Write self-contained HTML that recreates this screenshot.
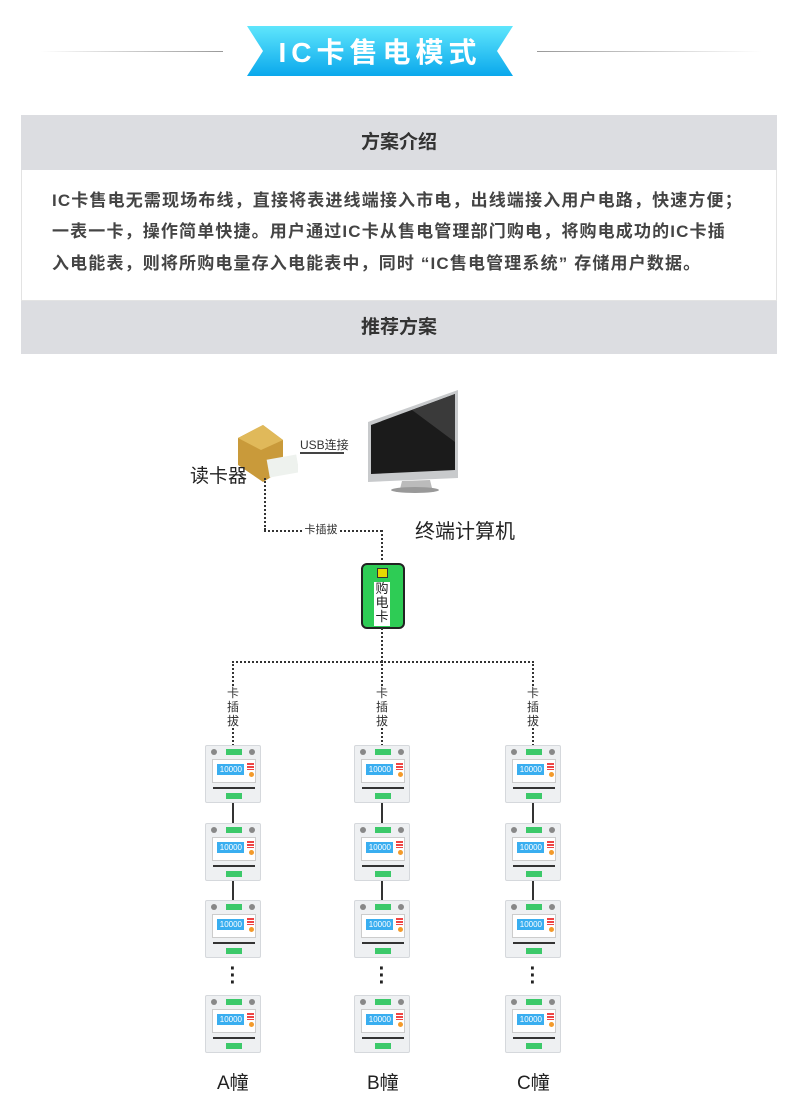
<!DOCTYPE html>
<html><head><meta charset="utf-8"><style>
*{margin:0;padding:0;box-sizing:border-box}
body{width:800px;height:1101px;background:#fff;position:relative;overflow:hidden;font-family:"Liberation Sans","Noto Sans CJK SC",sans-serif}
.a{position:absolute}
.hd{position:absolute;left:21px;width:756px;background:#dcdde1;text-align:center;font-weight:bold;font-size:19px;color:#333}
.p{position:absolute;left:52px;font-size:17px;font-weight:bold;color:#444;white-space:nowrap;letter-spacing:1.15px}
.m{position:absolute;width:56px;height:58px;background:#eef0f2;border:1px solid #d5d8dc;border-radius:2px}
.m .t{position:absolute;left:20px;width:16px;height:6px;background:#3cc96a;top:3px}
.m .b{top:47px}
.m .s{position:absolute;left:6px;top:13px;width:44px;height:24px;background:#fff;border:1px solid #ccc}
.m .l{position:absolute;left:4px;top:4px;width:27px;height:11px;background:#39aef0;color:#fff;font-size:8px;line-height:11px;text-align:right;padding-right:2px}
.m .o{position:absolute;left:36px;top:12px;width:5px;height:5px;border-radius:50%;background:#f39a2a}
.m .k{position:absolute;left:34px;top:3px;width:7px;height:7px;background:repeating-linear-gradient(#e44 0 2px,#fff 2px 3px)}
.m .bar{position:absolute;left:7px;top:41px;width:42px;height:2px;background:#333}
.m .c1,.m .c2{position:absolute;top:3px;width:6px;height:6px;border-radius:50%;background:#888}
.m .c1{left:5px}.m .c2{right:5px}
.v{position:absolute;width:0;border-left:2px solid #333}
.d{position:absolute;border-top:2px dotted #333}
.dv{position:absolute;border-left:2px dotted #333;width:0}
.lb{position:absolute;font-size:12px;color:#333;background:#fff;line-height:14px;text-align:center;width:14px}
.dots{position:absolute;font-size:20px;font-weight:bold;line-height:7px;width:10px;text-align:center;color:#222}
.nm{position:absolute;font-size:19px;color:#222}
</style></head><body>
<div class="a" style="left:40px;top:51px;width:183px;height:1px;background:linear-gradient(90deg,#fff,#999)"></div>
<div class="a" style="left:537px;top:51px;width:225px;height:1px;background:linear-gradient(90deg,#999,#fff)"></div>
<svg class="a" style="left:247px;top:26px" width="266" height="50"><defs><linearGradient id="g" x1="0" y1="0" x2="0" y2="1"><stop offset="0" stop-color="#5fe6fc"/><stop offset="1" stop-color="#0aa8ec"/></linearGradient></defs><polygon points="0,0 266,0 250,25 266,50 0,50 16,25" fill="url(#g)"/><text x="133" y="36" text-anchor="middle" font-family="Liberation Sans,Noto Sans CJK SC,sans-serif" font-size="28" font-weight="bold" fill="#fff" letter-spacing="5">IC卡售电模式</text></svg>
<div class="hd" style="top:115px;height:55px;line-height:55px">方案介绍</div>
<div class="a" style="left:21px;top:170px;width:756px;height:131px;border:1px solid #e3e3e3;border-top:0"></div>
<div class="p" style="top:186px">IC卡售电无需现场布线，直接将表进线端接入市电，出线端接入用户电路，快速方便；</div>
<div class="p" style="top:217px">一表一卡，操作简单快捷。用户通过IC卡从售电管理部门购电，将购电成功的IC卡插</div>
<div class="p" style="top:249px">入电能表，则将所购电量存入电能表中，同时 “IC售电管理系统” 存储用户数据。</div>
<div class="hd" style="top:301px;height:53px;line-height:53px">推荐方案</div>

<!-- monitor -->
<svg class="a" style="left:362px;top:382px" width="100" height="115"><polygon points="6,40 96,8 96,96 6,100" fill="#c8cacc"/><polygon points="9,43 93,12 93,88 9,92" fill="#1b1b1b"/><polygon points="50,28 93,12 93,60" fill="#3a3a3a"/><polygon points="40,99 68,98 70,106 38,107" fill="#bbb"/><ellipse cx="53" cy="108" rx="24" ry="3" fill="#999"/></svg>
<!-- reader -->
<svg class="a" style="left:228px;top:420px" width="70" height="65"><polygon points="10,18 35,5 55,20 55,50 35,62 10,45" fill="#c99a3a"/><polygon points="10,18 35,5 55,20 33,30" fill="#e0b95a"/><rect x="40" y="37" width="30" height="18" fill="#eef2ee" transform="rotate(-10 55 46)"/></svg>
<div class="nm" style="left:190px;top:461px;font-size:19px">读卡器</div>
<div class="a" style="left:300px;top:436px;font-size:12px;color:#333">USB连接</div>
<div class="a" style="left:300px;top:452px;width:44px;height:2px;background:#444"></div>
<div class="nm" style="left:415px;top:515px;font-size:20px">终端计算机</div>
<div class="dv" style="left:264px;top:478px;height:52px"></div>
<div class="d" style="left:264px;top:530px;width:118px"></div>
<div class="lb" style="left:302px;top:523px;width:38px;font-size:11px">卡插拔</div>
<div class="dv" style="left:381px;top:530px;height:30px"></div>
<div class="a" style="left:361px;top:563px;width:44px;height:66px;background:#2ecc55;border:2px solid #222;border-radius:6px"></div>
<div class="a" style="left:377px;top:568px;width:11px;height:10px;background:#e8d800;border:1px solid #333"></div>
<div class="a" style="left:374px;top:582px;width:16px;height:44px;background:#fff;font-size:13px;line-height:14px;text-align:center;color:#222">购电卡</div>
<div class="dv" style="left:381px;top:628px;height:34px"></div>
<div class="d" style="left:232px;top:661px;width:302px"></div>

<div class="dv" style="left:232px;top:661px;height:85px"></div>
<div class="dv" style="left:381px;top:661px;height:85px"></div>
<div class="dv" style="left:532px;top:661px;height:85px"></div>
<div class="lb" style="left:226px;top:686px">卡插拔</div>
<div class="lb" style="left:375px;top:686px">卡插拔</div>
<div class="lb" style="left:526px;top:686px">卡插拔</div>

<div class="v" style="left:232px;top:800px;height:24px"></div>
<div class="v" style="left:232px;top:878px;height:24px"></div>
<div class="v" style="left:381px;top:800px;height:24px"></div>
<div class="v" style="left:381px;top:878px;height:24px"></div>
<div class="v" style="left:532px;top:800px;height:24px"></div>
<div class="v" style="left:532px;top:878px;height:24px"></div>
<div class="dots" style="left:228px;top:966px">·<br>·<br>·</div>
<div class="dots" style="left:377px;top:966px">·<br>·<br>·</div>
<div class="dots" style="left:528px;top:966px">·<br>·<br>·</div>

<div class="m" style="left:205px;top:745px"><i class="c1"></i><i class="c2"></i><i class="t"></i><div class="s"><div class="l">10000</div><i class="k"></i><i class="o"></i></div><i class="bar"></i><i class="t b"></i></div>
<div class="m" style="left:205px;top:823px"><i class="c1"></i><i class="c2"></i><i class="t"></i><div class="s"><div class="l">10000</div><i class="k"></i><i class="o"></i></div><i class="bar"></i><i class="t b"></i></div>
<div class="m" style="left:205px;top:900px"><i class="c1"></i><i class="c2"></i><i class="t"></i><div class="s"><div class="l">10000</div><i class="k"></i><i class="o"></i></div><i class="bar"></i><i class="t b"></i></div>
<div class="m" style="left:205px;top:995px"><i class="c1"></i><i class="c2"></i><i class="t"></i><div class="s"><div class="l">10000</div><i class="k"></i><i class="o"></i></div><i class="bar"></i><i class="t b"></i></div>
<div class="m" style="left:354px;top:745px"><i class="c1"></i><i class="c2"></i><i class="t"></i><div class="s"><div class="l">10000</div><i class="k"></i><i class="o"></i></div><i class="bar"></i><i class="t b"></i></div>
<div class="m" style="left:354px;top:823px"><i class="c1"></i><i class="c2"></i><i class="t"></i><div class="s"><div class="l">10000</div><i class="k"></i><i class="o"></i></div><i class="bar"></i><i class="t b"></i></div>
<div class="m" style="left:354px;top:900px"><i class="c1"></i><i class="c2"></i><i class="t"></i><div class="s"><div class="l">10000</div><i class="k"></i><i class="o"></i></div><i class="bar"></i><i class="t b"></i></div>
<div class="m" style="left:354px;top:995px"><i class="c1"></i><i class="c2"></i><i class="t"></i><div class="s"><div class="l">10000</div><i class="k"></i><i class="o"></i></div><i class="bar"></i><i class="t b"></i></div>
<div class="m" style="left:505px;top:745px"><i class="c1"></i><i class="c2"></i><i class="t"></i><div class="s"><div class="l">10000</div><i class="k"></i><i class="o"></i></div><i class="bar"></i><i class="t b"></i></div>
<div class="m" style="left:505px;top:823px"><i class="c1"></i><i class="c2"></i><i class="t"></i><div class="s"><div class="l">10000</div><i class="k"></i><i class="o"></i></div><i class="bar"></i><i class="t b"></i></div>
<div class="m" style="left:505px;top:900px"><i class="c1"></i><i class="c2"></i><i class="t"></i><div class="s"><div class="l">10000</div><i class="k"></i><i class="o"></i></div><i class="bar"></i><i class="t b"></i></div>
<div class="m" style="left:505px;top:995px"><i class="c1"></i><i class="c2"></i><i class="t"></i><div class="s"><div class="l">10000</div><i class="k"></i><i class="o"></i></div><i class="bar"></i><i class="t b"></i></div>

<div class="nm" style="left:217px;top:1068px">A幢</div>
<div class="nm" style="left:367px;top:1068px">B幢</div>
<div class="nm" style="left:517px;top:1068px">C幢</div>
</body></html>
